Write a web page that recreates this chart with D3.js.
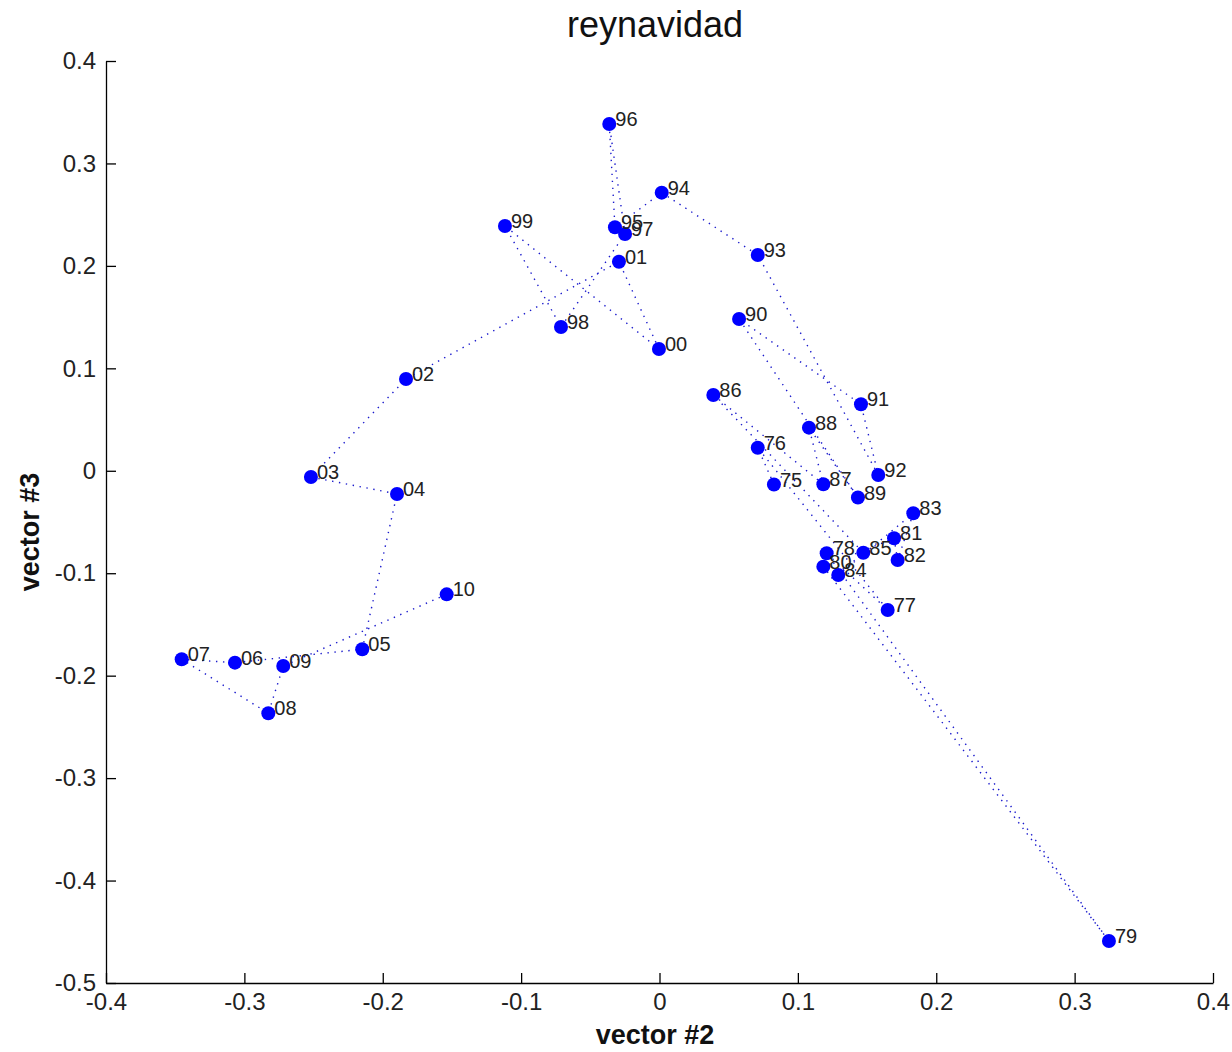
<!DOCTYPE html>
<html>
<head>
<meta charset="utf-8">
<script src="https://cdn.jsdelivr.net/npm/d3@7"></script>
<style>
  body { margin: 0; background: #fff; }
  text { font-family: "Liberation Sans", Arial, sans-serif; }
</style>
</head>
<body>
<div id="chart"></div>
<script>
// year labels, in plotting order
const years = ['75','76','77','78','79','80','81','82','83','84','85','86','87','88','89',
  '90','91','92','93','94','95','96','97','98','99','00','01','02','03','04','05','06','07','08','09','10'];
// vector #2
const vec2 = [0.0827, 0.0710, 0.1649, 0.1208, 0.3248, 0.1184, 0.1695, 0.1721, 0.1834, 0.1292,
  0.1473, 0.0389, 0.1184, 0.1080, 0.1434, 0.0575, 0.1456, 0.1581, 0.0710, 0.0016,
  -0.0322, -0.0363, -0.0249, -0.0712, -0.1117, -0.0004, -0.0293, -0.1832, -0.2519, -0.1897,
  -0.2148, -0.3068, -0.3453, -0.2827, -0.2719, -0.1538];
// vector #3
const vec3 = [-0.0134, 0.0225, -0.1359, -0.0805, -0.4590, -0.0936, -0.0659, -0.0871, -0.0415, -0.1017,
  -0.0800, 0.0740, -0.0132, 0.0421, -0.0261, 0.1482, 0.0649, -0.0041, 0.2107, 0.2715,
  0.2377, 0.3385, 0.2312, 0.1404, 0.2390, 0.1189, 0.2041, 0.0896, -0.0061, -0.0226,
  -0.1742, -0.1873, -0.1840, -0.2367, -0.1906, -0.1206];
const xTicks = [-0.4, -0.3, -0.2, -0.1, 0, 0.1, 0.2, 0.3, 0.4];
const yTicks = [-0.5, -0.4, -0.3, -0.2, -0.1, 0, 0.1, 0.2, 0.3, 0.4];

const W = 1232, H = 1052;
const margin = { top: 61, right: 19, bottom: 69, left: 106 };
const width = W - margin.left - margin.right;
const height = H - margin.top - margin.bottom;

const data = years.map((y, i) => ({ label: y, x: vec2[i], y: vec3[i] }));

// matlab prints a plain hyphen for negatives
const fmt = d => d === 0 ? '0' : d.toFixed(1);

const svg = d3.select('#chart').append('svg')
  .attr('width', W)
  .attr('height', H);

const chart = svg.append('g')
  .attr('transform', 'translate(' + margin.left + ',' + margin.top + ')');

const xScale = d3.scaleLinear().domain([-0.4, 0.4]).range([0, width]);
const yScale = d3.scaleLinear().domain([-0.5, 0.4]).range([height, 0]);

// ticks point inward
const xAxis = d3.axisBottom(xScale).tickValues(xTicks).tickSizeInner(-10).tickSizeOuter(0).tickFormat(fmt);
const yAxis = d3.axisLeft(yScale).tickValues(yTicks).tickSizeInner(-10).tickSizeOuter(0).tickFormat(fmt);

const gx = chart.append('g')
  .attr('class', 'x axis')
  .attr('transform', 'translate(0,' + height + ')')
  .call(xAxis);
const gy = chart.append('g')
  .attr('class', 'y axis')
  .call(yAxis);

[gx, gy].forEach(g => {
  g.selectAll('path, line').attr('stroke', '#000').attr('stroke-width', 1.3);
  g.selectAll('text').attr('font-size', 24).attr('fill', '#222')
    .attr('font-family', '"Liberation Sans", Arial, sans-serif');
});
gx.selectAll('text').attr('dy', '0.71em').attr('y', 10);
gy.selectAll('text').attr('x', -10);

// dotted trajectory
const line = d3.line().x(d => xScale(d.x)).y(d => yScale(d.y));
chart.append('path')
  .datum(data)
  .attr('d', line)
  .attr('fill', 'none')
  .attr('stroke', '#1a1acc')
  .attr('stroke-width', 1.4)
  .attr('stroke-dasharray', '1.4,5.6');

chart.selectAll('circle.pt')
  .data(data)
  .enter().append('circle')
  .attr('class', 'pt')
  .attr('cx', d => xScale(d.x))
  .attr('cy', d => yScale(d.y))
  .attr('r', 7)
  .attr('fill', '#0000ff');

chart.selectAll('text.lbl')
  .data(data)
  .enter().append('text')
  .attr('class', 'lbl')
  .attr('x', d => xScale(d.x) + 6)
  .attr('y', d => yScale(d.y) + 2)
  .attr('font-size', 20)
  .attr('fill', '#222')
  .text(d => d.label);

// title + axis labels
svg.append('text')
  .attr('x', 655).attr('y', 37)
  .attr('text-anchor', 'middle')
  .attr('font-size', 36)
  .attr('fill', '#111')
  .text('reynavidad');

svg.append('text')
  .attr('x', 655).attr('y', H - 8)
  .attr('text-anchor', 'middle')
  .attr('font-size', 27)
  .attr('font-weight', 'bold')
  .attr('fill', '#111')
  .text('vector #2');

svg.append('text')
  .attr('transform', 'translate(39,532) rotate(-90)')
  .attr('text-anchor', 'middle')
  .attr('font-size', 27)
  .attr('font-weight', 'bold')
  .attr('fill', '#111')
  .text('vector #3');
</script>
</body>
</html>
